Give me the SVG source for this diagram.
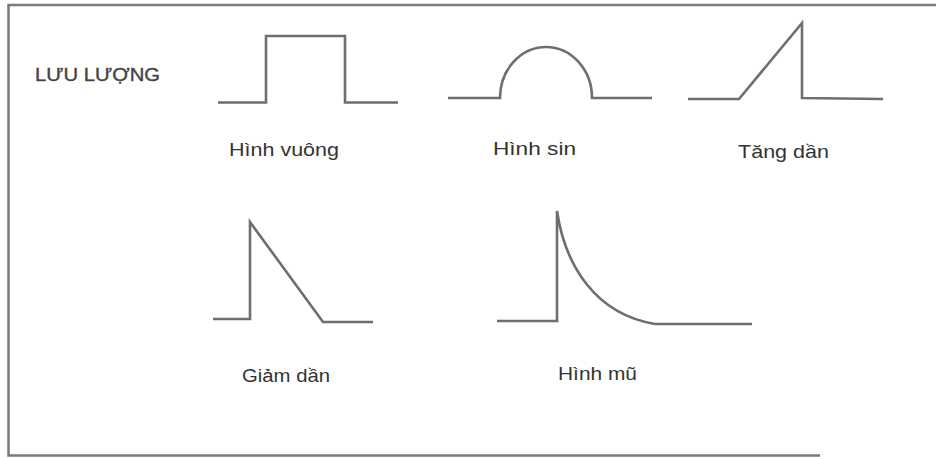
<svg xmlns="http://www.w3.org/2000/svg" width="936" height="459" viewBox="0 0 936 459">
<style>
.frame{fill:none;stroke:#7a7a7a;stroke-width:2.5}
.wave{fill:none;stroke:#6e6e6e;stroke-width:2.6;stroke-linejoin:miter}
.lbl{font-family:"Liberation Sans",Arial,sans-serif;font-size:19px;fill:#333}
.title{font-family:"Liberation Sans",Arial,sans-serif;font-size:19px;fill:#444;stroke:#444;stroke-width:0.4}
</style>
<rect width="936" height="459" fill="#ffffff"/>
<g id="frame">
<path class="frame" d="M936,5 H8.5 V455.5 H820"/>
</g>
<g id="title"><text class="title" x="35" y="81" textLength="125" lengthAdjust="spacingAndGlyphs">LƯU LƯỢNG</text></g>
<g id="square">
<path class="wave" d="M218,102.5 H266 V36 H345 V102.5 H398"/>
<text class="lbl" x="229" y="156" textLength="110" lengthAdjust="spacingAndGlyphs">Hình vuông</text>
</g>
<g id="sine">
<path class="wave" d="M448,98 H500 A46,51 0 0 1 592,98 H652"/>
<text class="lbl" x="493" y="155" textLength="83" lengthAdjust="spacingAndGlyphs">Hình sin</text>
</g>
<g id="ramp-up">
<path class="wave" d="M688,99 H739 L802,23 V98 L883,99"/>
<text class="lbl" x="738" y="158" textLength="91" lengthAdjust="spacingAndGlyphs">Tăng dần</text>
</g>
<g id="ramp-down">
<path class="wave" d="M213,319 H250 V222 L323,322 H373"/>
<text class="lbl" x="242" y="382" textLength="88" lengthAdjust="spacingAndGlyphs">Giảm dần</text>
</g>
<g id="exponential">
<path class="wave" d="M497,321 H557 V211 C565,265 595,314 655,324 H752"/>
<text class="lbl" x="558" y="380" textLength="79" lengthAdjust="spacingAndGlyphs">Hình mũ</text>
</g>
<g id="connectors"/>
</svg>
